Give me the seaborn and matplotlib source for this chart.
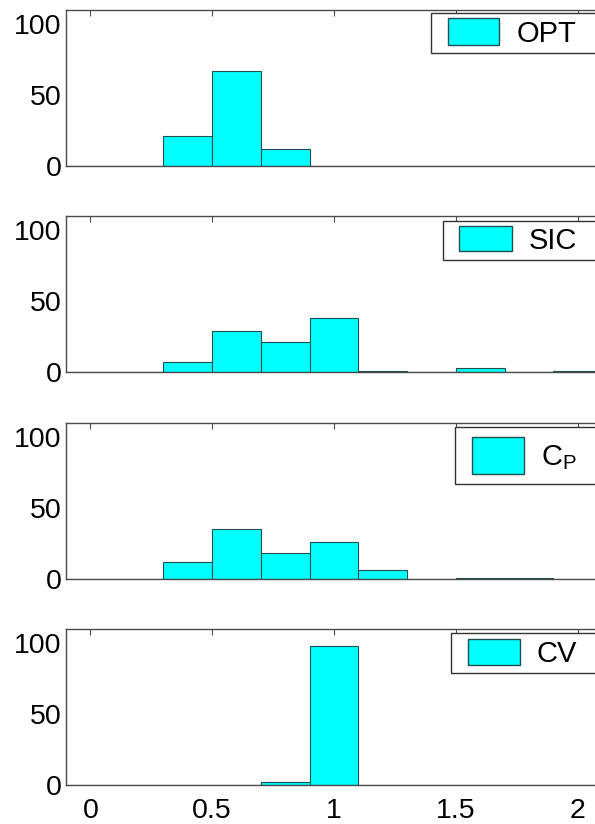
import numpy as np
import pandas as pd
import matplotlib
matplotlib.use("Agg")
import matplotlib.pyplot as plt
import seaborn as sns
from matplotlib.patches import Patch, Rectangle
from matplotlib.legend_handler import HandlerPatch

# ---- data (percent of runs per bin) ----
bin_centers = [0.0, 0.2, 0.4, 0.6, 0.8, 1.0, 1.2, 1.4, 1.6, 1.8, 2.0]
opt = [0, 0, 21, 67, 12, 0, 0, 0, 0, 0, 0]
sic = [0, 0, 7, 29, 21, 38, 0.6, 0, 2.8, 0, 0.6]
cp = [0, 0, 12, 35, 18, 26, 6.5, 0, 0.8, 0.8, 0]
cv = [0, 0, 0, 0, 2, 98, 0, 0, 0, 0, 0]
series = [opt, sic, cp, cv]
series_names = ["OPT", "SIC", r"C$_\mathregular{P}$", "CV"]
x_ticks = [0, 0.5, 1, 1.5, 2]
x_tick_labels = ["0", "0.5", "1", "1.5", "2"]
y_ticks = [0, 50, 100]
y_tick_labels = ["0", "50", "100"]

sns.set_style("white")
plt.rcParams["font.family"] = ["Liberation Sans", "DejaVu Sans"]
plt.rcParams["mathtext.fontset"] = "custom"
plt.rcParams["mathtext.rm"] = "Liberation Sans"
plt.rcParams["text.color"] = "black"

W, H = 595, 824
fig = plt.figure(figsize=(W / 100, H / 100), dpi=100)

bin_edges = [round(-0.1 + 0.2 * k, 2) for k in range(12)]
panel_tops = [9.5, 215.7, 422.7, 629.0]
panel_h = 156.3
ax_left, ax_right = 66.0, 602.0

# legend geometry: (box left px, box top px, patch width px, patch height px, pad px, patch offset px)
leg_geo = [(430.7, 13.0, 51.6, 27.0, 5.3, 17.0),
           (442.7, 220.7, 52.7, 25.3, 5.3, 16.3),
           (455.3, 426.7, 52.0, 36.6, 10.2, 17.0),
           (451.0, 633.3, 51.7, 26.0, 5.3, 17.3)]
leg_right = 620.0

fs = 20.5
lfs = 21
lfs_px = lfs / 0.72
spine_col = "#4a4a4a"
bar_col = "#00FFFF"
edge_col = "#1f4f4f"
px2pt = 0.72


def patch_factory(dx_px):
    dx_pt = dx_px * px2pt

    def make_patch(legend, orig_handle, xdescent, ydescent, width, height, fontsize):
        return Rectangle((-xdescent + dx_pt, -ydescent), width - dx_pt, height,
                         facecolor=bar_col, edgecolor=edge_col, linewidth=0.8)
    return make_patch


for i, (vals, name) in enumerate(zip(series, series_names)):
    top = panel_tops[i]
    ax = fig.add_axes([ax_left / W, 1 - (top + panel_h) / H,
                       (ax_right - ax_left) / W, panel_h / H])
    df = pd.DataFrame({"center": bin_centers, "pct": vals})
    sns.histplot(data=df, x="center", weights="pct", bins=bin_edges, ax=ax,
                 color=bar_col, alpha=1.0, edgecolor=edge_col, linewidth=0.8)
    ax.set_xlim(-0.1, 2.1)
    ax.set_ylim(0, 110)
    ax.set_xticks(x_ticks)
    ax.set_yticks(y_ticks)
    ax.set_yticklabels(y_tick_labels)
    if i == 3:
        ax.set_xticklabels(x_tick_labels)
    else:
        ax.set_xticklabels([])
    ax.set_xlabel("")
    ax.set_ylabel("")
    ax.tick_params(axis="both", direction="in", length=4, width=0.8,
                   color=spine_col, labelsize=fs, labelcolor="black",
                   top=True, right=True)
    ax.tick_params(axis="y", pad=3)
    ax.tick_params(axis="x", pad=9)
    for s in ax.spines.values():
        s.set_visible(True)
        s.set_color(spine_col)
        s.set_linewidth(1.0)

    bl, bt, pw, ph, pad, off = leg_geo[i]
    dx = off - pad
    hh = (ph / lfs_px - 0.245) / 0.65
    leg = ax.legend(handles=[Patch(facecolor=bar_col, edgecolor=edge_col)],
                    labels=[name], loc="upper left", mode="expand",
                    bbox_to_anchor=(bl / W, 1 - bt / H - 0.01, (leg_right - bl) / W, 0.01),
                    bbox_transform=fig.transFigure,
                    borderaxespad=0, fontsize=lfs, fancybox=False, framealpha=1,
                    edgecolor="#333333", borderpad=pad / lfs_px,
                    handlelength=(pw + dx) / lfs_px, handleheight=hh,
                    handletextpad=0.58,
                    handler_map={Patch: HandlerPatch(patch_func=patch_factory(dx))})
    leg.get_frame().set_linewidth(1.0)
    for t in leg.get_texts():
        t.set_color("black")

fig.savefig("out.png", dpi=100)
